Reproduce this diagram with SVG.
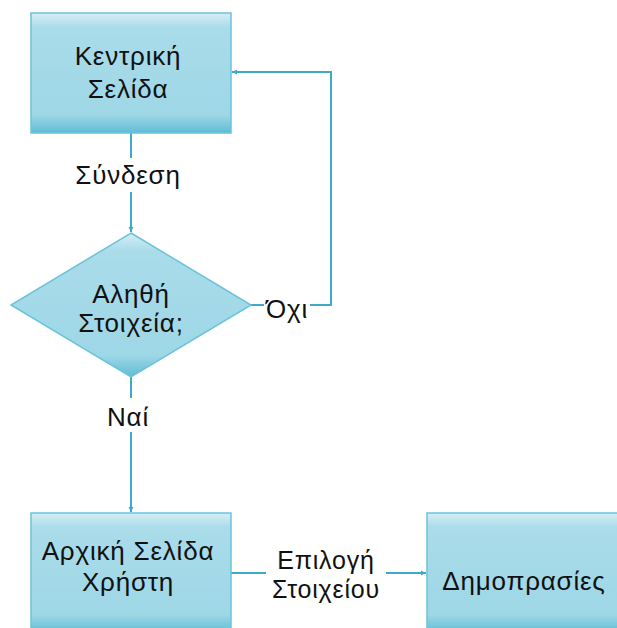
<svg xmlns="http://www.w3.org/2000/svg" width="617" height="628" viewBox="0 0 617 628">
<defs>
<linearGradient id="g" x1="0" y1="0" x2="0" y2="1">
<stop offset="0" stop-color="#d6eef5"/>
<stop offset="0.12" stop-color="#aadcea"/>
<stop offset="0.85" stop-color="#9ed7e6"/>
<stop offset="1" stop-color="#5fbcd6"/>
</linearGradient>
<marker id="a" markerWidth="6" markerHeight="6" refX="5" refY="3" orient="auto" markerUnits="userSpaceOnUse">
<path d="M0,0.5 L5,3 L0,5.5 Z" fill="#3ea9cb"/>
</marker>
<style>
.n{fill:url(#g);stroke:#6ac3da;stroke-width:1.5}
.t{font-family:"Liberation Sans",Arial,sans-serif;font-size:26px;fill:#111;text-anchor:middle;letter-spacing:0.8px}
.s{font-size:25px}
.c{fill:none;stroke:#3ea9cb;stroke-width:2}
.lb{fill:#fff}
</style>
</defs>
<rect width="617" height="628" fill="#fff"/>
<g id="connectors">
<path class="c" d="M131,133 V232" marker-end="url(#a)"/>
<path class="c" d="M251,305 H331 V72 H232" marker-end="url(#a)"/>
<path class="c" d="M131,377 V512" marker-end="url(#a)"/>
<path class="c" d="M231,573 H426" marker-end="url(#a)"/>
<rect class="lb" x="74" y="158" width="108" height="34"/>
<text class="t" x="128" y="184">Σύνδεση</text>
<rect class="lb" x="264" y="290" width="46" height="32"/>
<text class="t" x="287" y="318">Όχι</text>
<rect class="lb" x="106" y="398" width="44" height="34"/>
<text class="t" x="128" y="426">Ναί</text>
<rect class="lb" x="266" y="545" width="120" height="60"/>
<text class="t s" x="326" y="569">Επιλογή</text>
<text class="t s" x="326" y="598">Στοιχείου</text>
</g>
<g id="kentriki">
<rect class="n" x="31" y="13" width="200" height="120"/>
<text class="t" x="128" y="65">Κεντρική</text>
<text class="t" x="128" y="98">Σελίδα</text>
</g>
<g id="decision">
<path class="n" d="M131,233 L251,305 L131,377 L11,305 Z"/>
<text class="t" x="131" y="303">Αληθή</text>
<text class="t" x="131" y="332">Στοιχεία;</text>
</g>
<g id="arxiki">
<rect class="n" x="31" y="513" width="200" height="120"/>
<text class="t" x="128" y="560">Αρχική Σελίδα</text>
<text class="t" x="128" y="591">Χρήστη</text>
</g>
<g id="dimoprasies">
<rect class="n" x="427" y="513" width="200" height="120"/>
<text class="t" x="524" y="590">Δημοπρασίες</text>
</g>
</svg>
